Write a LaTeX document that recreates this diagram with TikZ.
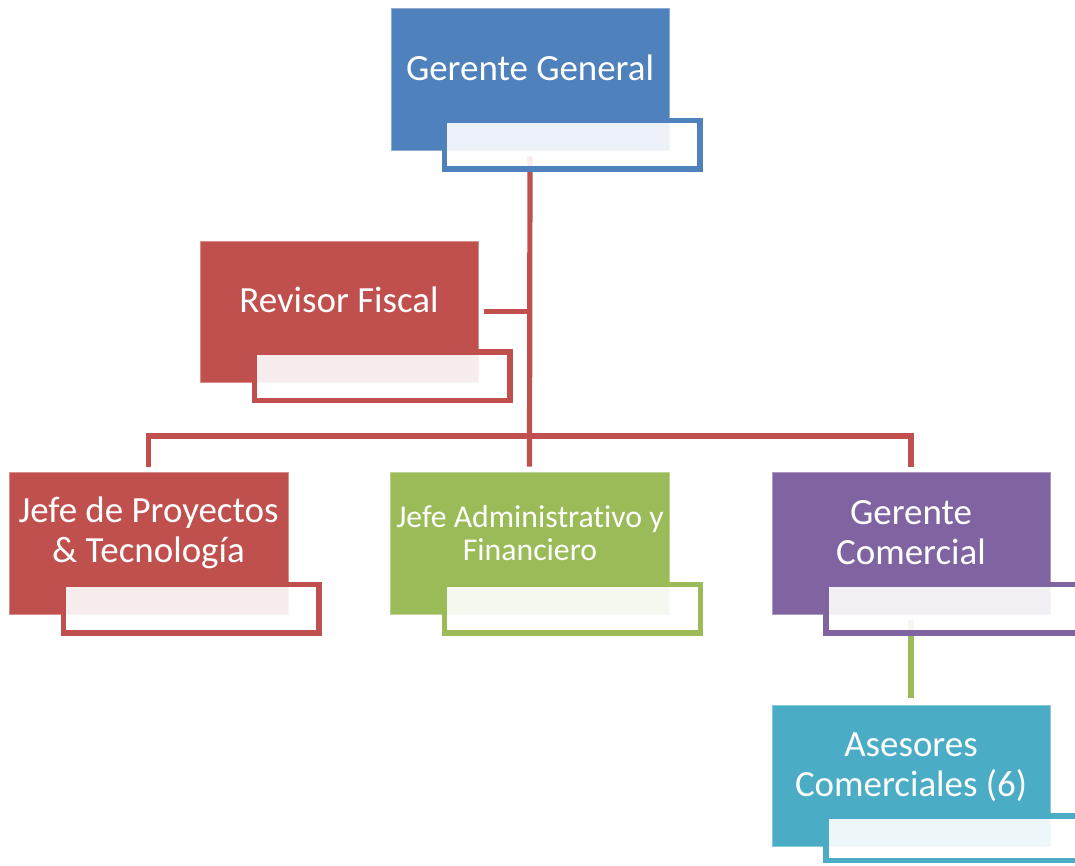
\documentclass[tikz,border=0pt]{standalone}
\usepackage{fontspec}
\setmainfont{Carlito}[Ligatures=NoCommon]
\usetikzlibrary{fit,backgrounds}
\definecolor{cblue}{HTML}{4F81BD}
\definecolor{cred}{HTML}{C0504D}
\definecolor{cgreen}{HTML}{9BBB59}
\definecolor{cpurple}{HTML}{8064A2}
\definecolor{caqua}{HTML}{4BACC6}
\begin{document}
\begin{tikzpicture}[x=0.75pt,y=-0.75pt,
  mainbox/.style={inner sep=0pt, fill=#1, draw=#1!65!white, line width=0.6pt},
  tagbox/.style={inner sep=0pt, draw=#1, line width=4.1pt, fill=white, fill opacity=0.9, draw opacity=1},
  link/.style={draw=#1, line width=3.9pt},
  lbl/.style={text=white, align=center, inner sep=0pt, font=\fontsize{27.7}{30}\selectfont},
  lblsmall/.style={lbl, font=\fontsize{23.8}{25}\selectfont}]
\useasboundingbox (0,0) rectangle (1075,865);

% Gerente General
\node[mainbox=cblue, fit={(391,8) (669,150)}] (gg) {};
\node[tagbox=cblue, fit={(444.5,120.5) (700,169)}] (ggtag) {};
\node[lbl] (ggtext) at (530,68) {Gerente General};

% Revisor Fiscal
\node[mainbox=cred, fit={(200,241) (478,382)}] (rf) {};
\node[tagbox=cred, fit={(254.5,352) (510,400.5)}] (rftag) {};
\node[lbl] (rftext) at (339,300) {Revisor Fiscal};

% Jefe de Proyectos & Tecnologia
\node[mainbox=cred, fit={(9,472) (288,614)}] (jp) {};
\node[tagbox=cred, fit={(63.5,584.5) (319,633)}] (jptag) {};
\node[lbl] (jptext) at (148.5,533) {Jefe de Proyectos\\\& Tecnología};

% Jefe Administrativo y Financiero
\node[mainbox=cgreen, fit={(390,472) (669,614)}] (ja) {};
\node[tagbox=cgreen, fit={(444.5,584.5) (700.5,633)}] (jatag) {};
\node[lblsmall] (jatext) at (530,533) {Jefe Administrativo y\\Financiero};

% Gerente Comercial
\node[mainbox=cpurple, fit={(772,472) (1050,614)}] (gc) {};
\node[tagbox=cpurple, fit={(826,584.5) (1083,633)}] (gctag) {};
\node[lbl] (gctext) at (911,533) {Gerente\\Comercial};

% Asesores Comerciales
\node[mainbox=caqua, fit={(772,705) (1050,846)}] (ac) {};
\node[tagbox=caqua, fit={(826,816) (1083,860.5)}] (actag) {};
\node[lbl] (actext) at (911,767) {Asesores\\Comerciales (6)};

% Connectors
\coordinate (bus) at (530,436);
\begin{scope}[on background layer]
  \draw[link=cred] ([yshift=-4.5pt]gg.south) -- ([yshift=3.75pt]ja.north);
  \draw[link=cred] ([yshift=3.75pt]jp.north) -- (jp.north |- bus) -- (gc.north |- bus) -- ([yshift=3.75pt]gc.north);
  \draw[link=cred] ([xshift=4.5pt]rf.east) -- (rf.east -| gg.south);
  \draw[link=cgreen] ([yshift=-4.5pt]gc.south) -- ([yshift=5.25pt]ac.north);
\end{scope}
\end{tikzpicture}
\end{document}
